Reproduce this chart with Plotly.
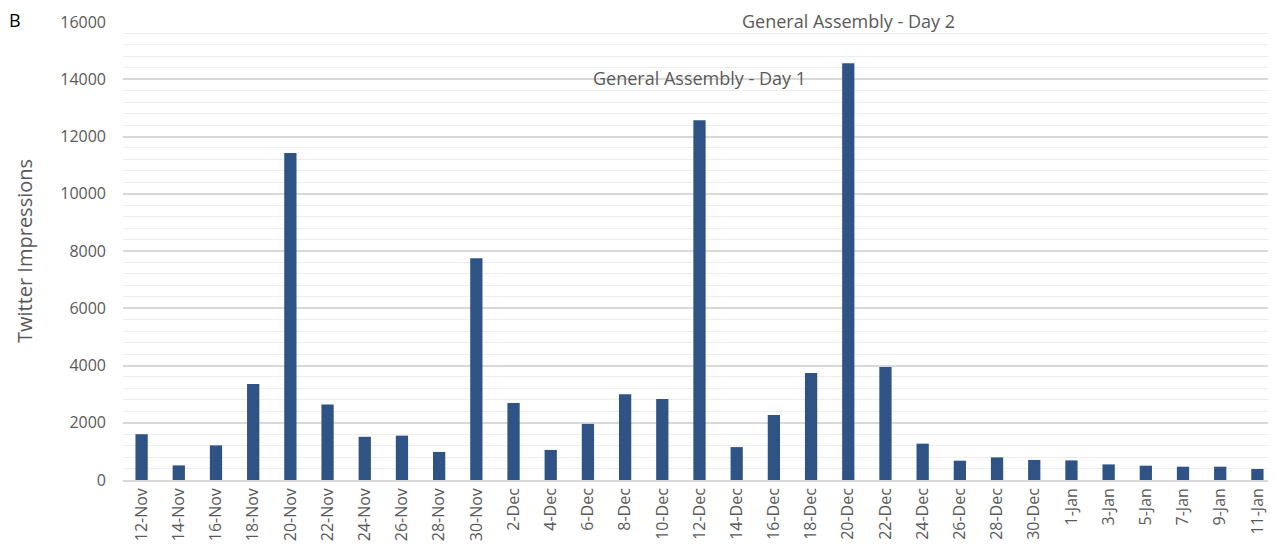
import plotly.graph_objects as go

categories = ["12-Nov", "14-Nov", "16-Nov", "18-Nov", "20-Nov", "22-Nov", "24-Nov", "26-Nov",
              "28-Nov", "30-Nov", "2-Dec", "4-Dec", "6-Dec", "8-Dec", "10-Dec", "12-Dec",
              "14-Dec", "16-Dec", "18-Dec", "20-Dec", "22-Dec", "24-Dec", "26-Dec", "28-Dec",
              "30-Dec", "1-Jan", "3-Jan", "5-Jan", "7-Jan", "9-Jan", "11-Jan"]
impressions = [1600, 510, 1210, 3350, 11420, 2640, 1510, 1550, 980, 7750, 2690, 1050, 1960,
               3000, 2830, 12570, 1150, 2270, 3740, 14560, 3950, 1270, 675, 790, 700, 685,
               545, 500, 465, 465, 385]
annotation_cats = ["20-Dec", "12-Dec"]
annotation_vals = [16050, 14040]
annotation_texts = ["General Assembly - Day 2", "General Assembly - Day 1"]

FONT = "Open Sans"
GREY = "#595959"
Y_MAX = 16000

fig = go.Figure(go.Bar(x=categories, y=impressions, marker_color="#2F5384",
                       width=0.33, marker_line_width=0))

for cat, yv, txt in zip(annotation_cats, annotation_vals, annotation_texts):
    fig.add_annotation(x=cat, y=yv / Y_MAX, xref="x", yref="paper", text=txt, showarrow=False,
                       yanchor="middle",
                       font=dict(family=FONT, size=18, color=GREY))

W, H = 1268, 539
L, R, T, B = 115, 0, 14, 67
pw, ph = W - L - R, H - T - B
fig.add_annotation(x=(7 - L) / pw, y=(H - B - 12) / ph, xref="paper", yref="paper",
                   text="B", showarrow=False, xanchor="center", yanchor="middle",
                   font=dict(family=FONT, size=18, color="black"))

fig.update_layout(
    width=W, height=H,
    margin=dict(l=L, r=R, t=T, b=B),
    plot_bgcolor="white", paper_bgcolor="white",
    showlegend=False,
    font=dict(family=FONT, color=GREY),
    xaxis=dict(type="category", tickangle=-90, tickfont=dict(size=16, color=GREY),
               showgrid=False, showline=True, linecolor="#D9D9D9", linewidth=1.5,
               ticks="", ticklen=0),
    yaxis=dict(range=[0, Y_MAX], dtick=2000, tickformat="d", tickfont=dict(size=16, color=GREY),
               showgrid=True, gridcolor="#D9D9D9", gridwidth=1.5, zeroline=False,
               ticks="", ticklabelstandoff=16,
               minor=dict(dtick=400, showgrid=True, gridcolor="#EDEDED", gridwidth=1),
               title=dict(text="Twitter Impressions", font=dict(size=20, color=GREY), standoff=22)),
)
fig.write_html("out.html")
